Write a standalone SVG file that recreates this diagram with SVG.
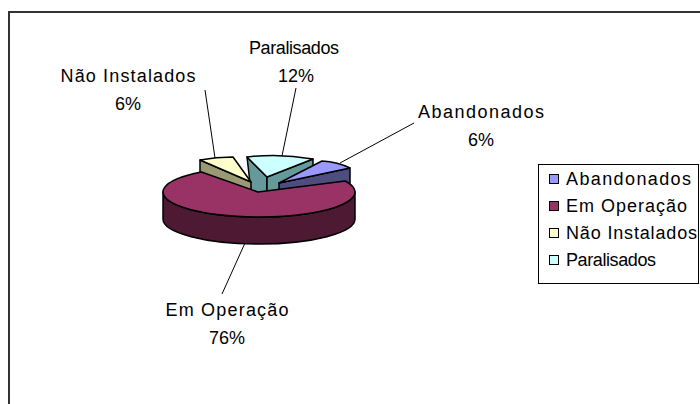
<svg xmlns="http://www.w3.org/2000/svg" width="700" height="404" viewBox="0 0 700 404">
<style>
text{font-family:"Liberation Sans",Arial,sans-serif;font-size:18px;fill:#000}
.c{text-anchor:middle}
.e{stroke:#000;stroke-width:1.5;stroke-linejoin:round}
.ld{stroke:#000;stroke-width:1;fill:none}
.sw{stroke:#000;stroke-width:1}
</style>
<rect x="9" y="12" width="800" height="500" fill="#fff" stroke="#333" stroke-width="2"/>
<g id="slice-paralisados">
<polygon class="e" fill="#669999" points="247,157 267,177 267,204 252,200"/>
<polygon class="e" fill="#669999" points="267,177 313,159 313,186 267,204"/>
<path class="e" fill="#CCFFFF" d="M247,157 Q280,153 313,159 L267,177 Z"/>
</g>
<g id="slice-nao-instalados">
<polygon class="e" fill="#999973" points="200,160 251,182 251,209 200,187"/>
<path class="e" fill="#FFFFCC" d="M200,160 Q216,157 233,157 L251,182 Z"/>
</g>
<g id="slice-abandonados">
<polygon class="e" fill="#4D4D80" points="279,183 350,168 350,195 279,210"/>
<path class="e" fill="#9999FF" d="M279,183 L322,161 Q338,162 350,168 Z"/>
</g>
<g id="slice-em-operacao">
<path class="e" fill="#4D1933" d="M163,192 L163,219 A96 25 0 0 0 355,219 L355,192 A96 25 0 0 1 163,192 Z"/>
<path class="e" fill="#993366" d="M345.2,181 A96 25 0 1 1 201.4,172 L258,192 Z"/>
</g>
<g id="connectors">
<line class="ld" x1="296" y1="88" x2="282" y2="156"/>
<line class="ld" x1="205" y1="90" x2="215" y2="158"/>
<line class="ld" x1="414" y1="123" x2="340" y2="163"/>
<line class="ld" x1="245" y1="243" x2="222" y2="294"/>
</g>
<g id="labels">
<text class="c" x="294" y="54" textLength="90" lengthAdjust="spacing">Paralisados</text>
<text class="c" x="296" y="82">12%</text>
<text class="c" x="128" y="82" textLength="135" lengthAdjust="spacing">Não Instalados</text>
<text class="c" x="128" y="110">6%</text>
<text class="c" x="481" y="118" textLength="126" lengthAdjust="spacing">Abandonados</text>
<text class="c" x="481" y="146">6%</text>
<text class="c" x="227" y="316" textLength="123" lengthAdjust="spacing">Em Operação</text>
<text class="c" x="227" y="344">76%</text>
</g>
<g id="legend">
<rect x="538.5" y="164.5" width="160" height="119" fill="#fff" stroke="#000" stroke-width="1"/>
<rect class="sw" x="549.5" y="174.5" width="9" height="9" fill="#9999FF"/>
<text x="566" y="185" textLength="125" lengthAdjust="spacing">Abandonados</text>
<rect class="sw" x="549.5" y="201.5" width="9" height="9" fill="#993366"/>
<text x="566" y="212" textLength="121" lengthAdjust="spacing">Em Operação</text>
<rect class="sw" x="549.5" y="228.5" width="9" height="9" fill="#FFFFCC"/>
<text x="566" y="239" textLength="131" lengthAdjust="spacing">Não Instalados</text>
<rect class="sw" x="549.5" y="255.5" width="9" height="9" fill="#CCFFFF"/>
<text x="566" y="266" textLength="90" lengthAdjust="spacing">Paralisados</text>
</g>
</svg>
